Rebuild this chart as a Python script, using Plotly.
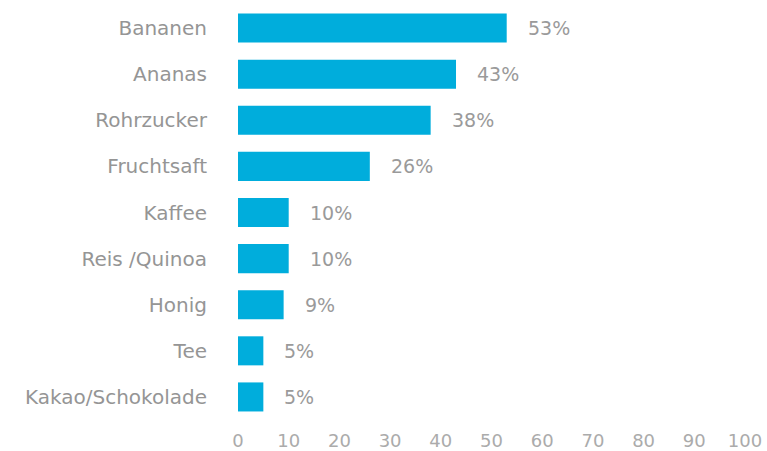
import plotly.graph_objects as go

categories = ["Bananen", "Ananas", "Rohrzucker", "Fruchtsaft", "Kaffee",
              "Reis /Quinoa", "Honig", "Tee", "Kakao/Schokolade"]
values = [53, 43, 38, 26, 10, 10, 9, 5, 5]
labels = [f"{v}%" for v in values]
x_ticks = [0, 10, 20, 30, 40, 50, 60, 70, 80, 90, 100]

BAR = "#00ADDC"
FONT = "DejaVu Sans"

fig = go.Figure()
fig.add_trace(go.Bar(
    x=values, y=categories, orientation="h",
    marker=dict(color=BAR, line=dict(width=0)),
    width=0.63, hoverinfo="skip",
))
for c, v, t in zip(categories, values, labels):
    fig.add_annotation(x=v, y=c, text=t, xanchor="left", yanchor="middle",
                       xshift=19, showarrow=False,
                       font=dict(family=FONT, size=19, color="#9a9a9a"))

fig.update_layout(
    width=767, height=451,
    margin=dict(l=238, r=22, t=5, b=31),
    paper_bgcolor="white", plot_bgcolor="white",
    showlegend=False,
    bargap=0.37,
    xaxis=dict(range=[0, 100], tickvals=x_ticks, showgrid=False, zeroline=False,
               showline=False, ticks="", ticklabelstandoff=8, automargin=False,
               tickfont=dict(family=FONT, size=18, color="#ababab"),
               fixedrange=True),
    yaxis=dict(categoryorder="array", categoryarray=categories[::-1],
               showgrid=False, zeroline=False, showline=False, ticks="",
               ticklabelstandoff=30, automargin=False,
               tickfont=dict(family=FONT, size=20, color="#959595"),
               fixedrange=True),
)

fig.write_html("out.html")
